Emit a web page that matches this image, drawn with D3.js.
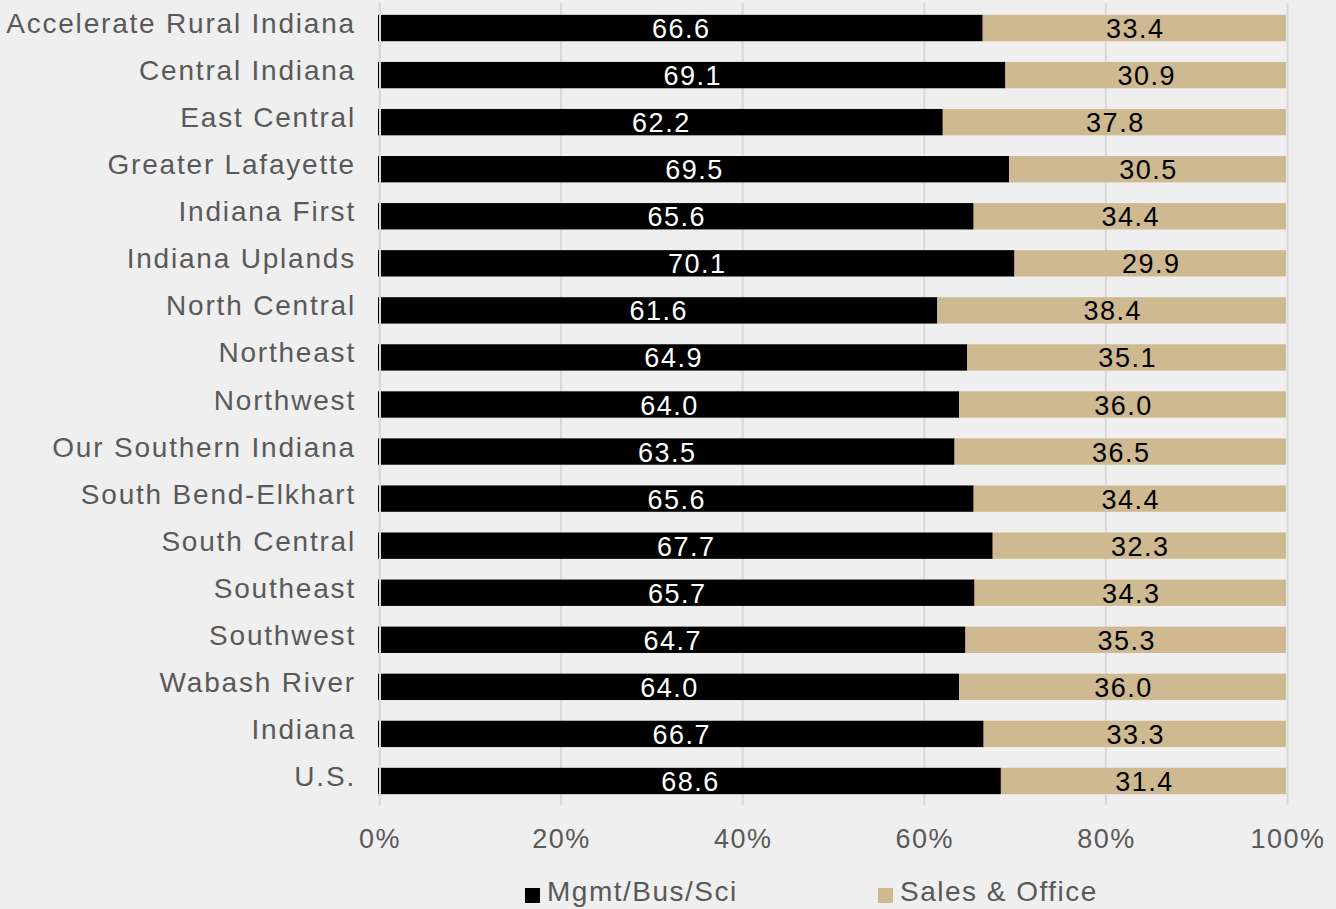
<!DOCTYPE html>
<html>
<head>
<meta charset="utf-8">
<script src="https://cdn.jsdelivr.net/npm/d3@7"></script>
<style>
  body { margin: 0; background: #efefef; }
  svg { display: block; font-family: "Liberation Sans", Arial, sans-serif; }
</style>
</head>
<body>
<div id="canvas"></div>
<script>
const W = 1336
const H = 909

const regions = ['Accelerate Rural Indiana', 'Central Indiana', 'East Central', 'Greater Lafayette',
	'Indiana First', 'Indiana Uplands', 'North Central', 'Northeast', 'Northwest',
	'Our Southern Indiana', 'South Bend-Elkhart', 'South Central', 'Southeast', 'Southwest',
	'Wabash River', 'Indiana', 'U.S.']
const mgmt = [66.6, 69.1, 62.2, 69.5, 65.6, 70.1, 61.6, 64.9, 64.0, 63.5, 65.6, 67.7, 65.7, 64.7, 64.0, 66.7, 68.6]
const sales = [33.4, 30.9, 37.8, 30.5, 34.4, 29.9, 38.4, 35.1, 36.0, 36.5, 34.4, 32.3, 34.3, 35.3, 36.0, 33.3, 31.4]
const seriesNames = ['Mgmt/Bus/Sci', 'Sales & Office']
const seriesColors = ['#000000', '#cfb991']
const ticks = [0, 20, 40, 60, 80, 100]

const svg = d3.select('#canvas')
	.append('svg')
	.attr('width', W)
	.attr('height', H);

svg.append('rect').attr('width', W).attr('height', H).attr('fill', '#efefef');

const x = d3.scaleLinear()
	.domain([0, 100])
	.range([378, 1286]);

const y = d3.scaleBand()
	.domain(regions)
	.range([4.5, 804.5])
	.paddingInner(0.44)
	.paddingOuter(0.22);

// gridlines
svg.append('g')
	.selectAll('line')
	.data(ticks)
	.enter()
	.append('line')
		.attr('x1', d => x(d) + 1.5)
		.attr('x2', d => x(d) + 1.5)
		.attr('y1', 3)
		.attr('y2', 805)
		.attr('stroke', '#d9d9d9')
		.attr('stroke-width', 2);

// stacked rows
const rows = regions.map((r, i) => ({ region: r, vals: [mgmt[i], sales[i]] }));
const stack = d3.stack().keys([0, 1]).value((d, k) => d.vals[k]);
const layers = stack(rows);

const layerG = svg.selectAll('g.layer')
	.data(layers)
	.enter()
	.append('g')
	.attr('class', 'layer');

layerG.selectAll('rect')
	.data(d => d)
	.enter()
	.append('rect')
		.attr('x', d => x(d[0]))
		.attr('width', d => x(d[1]) - x(d[0]))
		.attr('y', d => y(d.data.region))
		.attr('height', y.bandwidth())
		.attr('fill', (d, i, n) => seriesColors[d3.select(n[i].parentNode).datum().key]);

// zero line over the bars
svg.append('line')
	.attr('x1', x(0) + 2).attr('x2', x(0) + 2)
	.attr('y1', 3).attr('y2', 805)
	.attr('stroke', '#d9d9d9')
	.attr('stroke-width', 2);

// value labels
layerG.selectAll('text')
	.data(d => d)
	.enter()
	.append('text')
		.attr('x', d => (x(d[0]) + x(d[1])) / 2 + 1)
		.attr('y', d => y(d.data.region) + y.bandwidth() / 2 + 10)
		.attr('text-anchor', 'middle')
		.attr('font-size', 27)
		.attr('letter-spacing', 1.5)
		.attr('fill', (d, i, n) => d3.select(n[i].parentNode).datum().key === 0 ? '#ffffff' : '#000000')
		.text(d => (d[1] - d[0]).toFixed(1));

// category labels
const yAxisGroup = svg.append('g')
	.attr('transform', `translate(${x(0)}, 0)`);
const yAxis = d3.axisLeft(y).tickSize(0).tickPadding(22);
yAxisGroup.call(yAxis);
yAxisGroup.select('.domain').remove();
yAxisGroup.selectAll('text')
	.attr('font-size', 28)
	.attr('letter-spacing', 1.8)
	.attr('fill', '#595959')
	.attr('font-family', '"Liberation Sans", Arial, sans-serif')
	.attr('dy', '0.18em');

// x axis labels
const xAxisGroup = svg.append('g')
	.attr('transform', 'translate(1.5, 805)');
const xAxis = d3.axisBottom(x).tickValues(ticks).tickSize(0).tickPadding(16).tickFormat(d => d + '%');
xAxisGroup.call(xAxis);
xAxisGroup.select('.domain').remove();
xAxisGroup.selectAll('text')
	.attr('font-size', 27)
	.attr('letter-spacing', 1.5)
	.attr('fill', '#595959')
	.attr('font-family', '"Liberation Sans", Arial, sans-serif')
	.attr('dy', '1em');

// legend
const legendX = [525, 878];
const legend = svg.append('g');
seriesNames.forEach((name, i) => {
	legend.append('rect')
		.attr('x', legendX[i]).attr('y', 888)
		.attr('width', 15).attr('height', 15)
		.attr('fill', seriesColors[i]);
	legend.append('text')
		.attr('x', legendX[i] + 22).attr('y', 901)
		.attr('font-size', 28)
		.attr('letter-spacing', 1.5)
		.attr('fill', '#595959')
		.text(name);
});
</script>
</body>
</html>
